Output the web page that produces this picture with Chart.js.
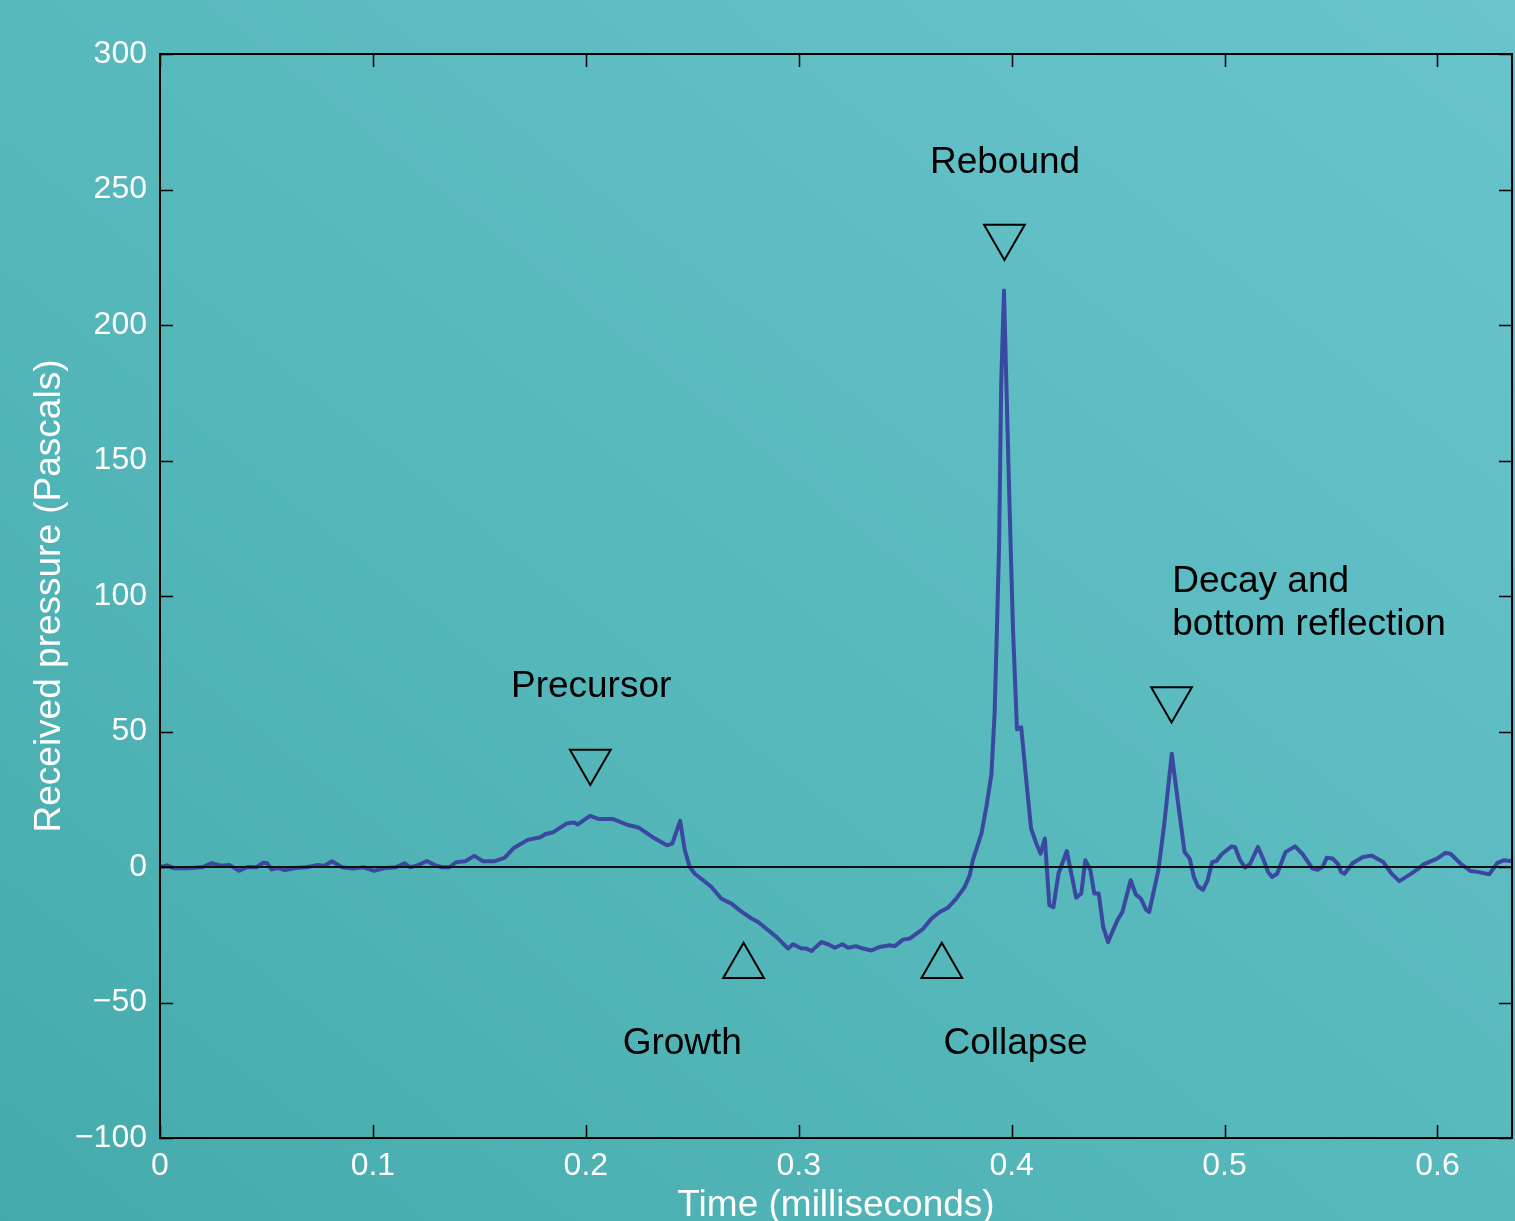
<!DOCTYPE html>
<html>
<head>
<meta charset="utf-8">
<script src="https://cdn.jsdelivr.net/npm/chart.js@4.4.1/dist/chart.umd.min.js"></script>
<style>
  html, body { margin: 0; padding: 0; }
  body {
    width: 1515px;
    height: 1221px;
    overflow: hidden;
    background: linear-gradient(to top right, #46aaab 0%, #56b8bb 45%, #69c4cd 100%);
  }
  canvas { display: block; }
</style>
</head>
<body>
<canvas id="chart" width="1515" height="1221"></canvas>
<script>
// received pressure trace
const timeMs = [
  0.0000, 0.0017, 0.0034, 0.0067, 0.0134, 0.0201, 0.0243, 0.0285, 0.0327, 0.0372,
  0.0411, 0.0453, 0.0486, 0.0503, 0.0523, 0.0553, 0.0587, 0.0637, 0.0687, 0.0738,
  0.0771, 0.0808, 0.0855, 0.0905, 0.0956, 0.1006, 0.1056, 0.1107, 0.1149, 0.1174,
  0.1207, 0.1254, 0.1291, 0.1325, 0.1358, 0.1392, 0.1434, 0.1476, 0.1517, 0.1568,
  0.1618, 0.1660, 0.1727, 0.1786, 0.1811, 0.1844, 0.1911, 0.1945, 0.1962, 0.2020,
  0.2062, 0.2129, 0.2197, 0.2247, 0.2314, 0.2381, 0.2406, 0.2443, 0.2465, 0.2488,
  0.2512, 0.2551, 0.2590, 0.2637, 0.2684, 0.2723, 0.2778, 0.2809, 0.2848, 0.2895,
  0.2950, 0.2973, 0.3013, 0.3036, 0.3060, 0.3083, 0.3107, 0.3138, 0.3169, 0.3205,
  0.3232, 0.3268, 0.3302, 0.3341, 0.3380, 0.3427, 0.3451, 0.3490, 0.3521, 0.3584,
  0.3623, 0.3662, 0.3701, 0.3740, 0.3779, 0.3803, 0.3818, 0.3858, 0.3881, 0.3905,
  0.3920, 0.3931, 0.3941, 0.3951, 0.3964, 0.3975, 0.3990, 0.4006, 0.4025, 0.4045,
  0.4066, 0.4091, 0.4116, 0.4136, 0.4156, 0.4177, 0.4196, 0.4220, 0.4259, 0.4303,
  0.4327, 0.4346, 0.4370, 0.4388, 0.4409, 0.4430, 0.4453, 0.4496, 0.4520, 0.4559,
  0.4583, 0.4607, 0.4631, 0.4646, 0.4689, 0.4717, 0.4752, 0.4780, 0.4812, 0.4836,
  0.4856, 0.4875, 0.4899, 0.4920, 0.4942, 0.4962, 0.4986, 0.5033, 0.5049, 0.5073,
  0.5097, 0.5120, 0.5157, 0.5184, 0.5204, 0.5223, 0.5247, 0.5286, 0.5331, 0.5365,
  0.5413, 0.5437, 0.5460, 0.5480, 0.5508, 0.5532, 0.5547, 0.5563, 0.5602, 0.5650,
  0.5690, 0.5745, 0.5785, 0.5821, 0.5871, 0.5911, 0.5934, 0.5998, 0.6037, 0.6061,
  0.6109, 0.6156, 0.6188, 0.6243, 0.6282, 0.6314, 0.6338, 0.6377
];
const pressurePa = [
  0.3, 0.2, 0.6, -0.5, -0.5, 0.0, 1.4, 0.5, 0.7, -1.4,
  0.0, -0.1, 1.6, 1.4, -0.9, -0.4, -1.1, -0.4, -0.1, 0.7,
  0.4, 2.1, -0.1, -0.6, -0.1, -1.4, -0.4, -0.1, 1.4, -0.1,
  0.5, 2.2, 0.7, -0.1, -0.1, 1.8, 2.1, 4.1, 2.1, 2.1,
  3.4, 6.9, 10.0, 11.0, 12.2, 12.7, 16.1, 16.4, 15.7, 18.9,
  17.7, 17.7, 15.5, 14.6, 11.0, 8.0, 8.6, 17.0, 6.2, 0.0,
  -2.5, -4.9, -7.4, -11.7, -13.5, -16.0, -19.0, -20.3, -22.8, -25.8,
  -30.1, -28.5, -30.1, -30.1, -31.0, -29.3, -27.7, -28.5, -29.8, -28.5,
  -29.8, -29.2, -30.1, -30.8, -29.5, -28.9, -29.2, -26.8, -26.4, -22.8,
  -19.1, -16.6, -15.0, -11.7, -7.4, -3.1, 2.6, 12.3, 22.1, 34.2,
  56.8, 88.4, 118.5, 178.8, 212.7, 178.8, 133.6, 88.4, 50.8, 51.5,
  34.2, 14.3, 8.6, 4.9, 10.5, -14.1, -14.8, -2.5, 5.9, -11.3,
  -9.8, 2.5, -1.2, -9.8, -9.8, -22.1, -27.7, -19.7, -16.6, -4.9,
  -10.1, -11.7, -15.7, -16.6, -1.2, 16.0, 41.8, 24.6, 5.5, 3.1,
  -3.7, -7.1, -8.4, -4.9, 1.8, 2.2, 4.7, 7.6, 7.4, 2.5,
  -0.2, 1.2, 7.4, 2.5, -1.8, -3.7, -2.5, 5.5, 7.6, 4.9,
  -0.6, -1.0, 0.0, 3.4, 3.1, 1.2, -1.8, -2.5, 1.5, 3.7,
  4.2, 1.8, -2.5, -5.2, -2.7, -0.6, 1.0, 3.1, 5.2, 4.9,
  1.2, -1.5, -1.8, -2.7, 1.5, 2.5, 2.2, 2.7
];

// zero reference line
const zeroTime = [0, 0.635];
const zeroValue = [0, 0];

// triangle markers
const markerTime = [0.2021, 0.3966, 0.4751, 0.2741, 0.3672];
const markerValue = [38.9, 232.7, 62.0, -36.6, -36.6];

// annotation text (baseline anchor)
const noteText = ['Precursor', 'Rebound', 'Decay and', 'bottom reflection', 'Growth', 'Collapse'];
const noteTime = [0.2025, 0.3969, 0.4754, 0.4754, 0.2453, 0.4018];
const noteValue = [62.6, 256.0, 101.6, 85.6, -69.0, -69.0];
const noteAlign = ['center', 'center', 'left', 'left', 'center', 'center'];

// axes
const xTicks = [0, 0.1, 0.2, 0.3, 0.4, 0.5, 0.6];
const yTicks = [-100, -50, 0, 50, 100, 150, 200, 250, 300];
const xMin = 0, xMax = 0.635;
const yMin = -100, yMax = 300;

const FONT = '"Liberation Sans", Arial, Helvetica, sans-serif';

const framePlugin = {
  id: 'frame',
  afterDatasetsDraw(chart) {
    const { ctx, chartArea: a, scales: { x, y } } = chart;
    ctx.save();
    ctx.strokeStyle = '#000';
    ctx.lineWidth = 2;
    ctx.strokeRect(a.left, a.top, a.right - a.left, a.bottom - a.top);

    ctx.lineWidth = 1.5;
    ctx.beginPath();
    for (const t of xTicks) {
      const px = Math.round(x.getPixelForValue(t)) + 0.5;
      ctx.moveTo(px, a.bottom);
      ctx.lineTo(px, a.bottom - 13);
      ctx.moveTo(px, a.top);
      ctx.lineTo(px, a.top + 13);
    }
    for (const v of yTicks) {
      const py = Math.round(y.getPixelForValue(v)) + 0.5;
      ctx.moveTo(a.left, py);
      ctx.lineTo(a.left + 13, py);
      ctx.moveTo(a.right, py);
      ctx.lineTo(a.right - 13, py);
    }
    ctx.stroke();

    ctx.fillStyle = '#000';
    ctx.font = '37px ' + FONT;
    ctx.textBaseline = 'alphabetic';
    noteText.forEach((txt, i) => {
      ctx.textAlign = noteAlign[i];
      ctx.fillText(txt, x.getPixelForValue(noteTime[i]), y.getPixelForValue(noteValue[i]));
    });
    ctx.restore();
  }
};

const minus = v => (v < 0 ? '\u2212' + Math.abs(v) : String(v));

new Chart(document.getElementById('chart'), {
  type: 'line',
  data: {
    datasets: [
      {
        data: zeroTime.map((t, i) => ({ x: t, y: zeroValue[i] })),
        borderColor: '#111',
        borderWidth: 2,
        pointRadius: 0
      },
      {
        data: timeMs.map((t, i) => ({ x: t, y: pressurePa[i] })),
        borderColor: '#3a48a0',
        borderWidth: 4,
        pointRadius: 0,
        tension: 0,
        borderJoinStyle: 'round'
      },
      {
        data: markerTime.map((t, i) => ({ x: t, y: markerValue[i] })),
        showLine: false,
        pointStyle: 'triangle',
        pointRadius: 23.5,
        pointHoverRadius: 23.5,
        pointBorderWidth: 2,
        pointBorderColor: '#000',
        pointBackgroundColor: 'rgba(0,0,0,0)',
        pointRotation: ctx => (markerValue[ctx.dataIndex] > 0 ? 180 : 0)
      }
    ]
  },
  options: {
    responsive: false,
    animation: false,
    devicePixelRatio: 1,
    layout: { autoPadding: false, padding: { top: 54, right: 3, left: 0, bottom: 0 } },
    plugins: {
      legend: { display: false },
      tooltip: { enabled: false }
    },
    scales: {
      x: {
        type: 'linear',
        min: xMin,
        max: xMax,
        grid: { display: false, drawTicks: false },
        border: { display: false },
        afterBuildTicks: s => { s.ticks = xTicks.map(v => ({ value: v })); },
        afterFit: s => {
          s.height = 83;
          s.paddingLeft = 0;
          s.paddingRight = 0;
        },
        ticks: {
          color: '#fff',
          font: { family: FONT, size: 32 },
          padding: 9,
          maxRotation: 0,
          autoSkip: false,
          callback: v => String(v)
        },
        title: {
          display: true,
          text: 'Time (milliseconds)',
          color: '#fff',
          font: { family: FONT, size: 37, lineHeight: 0.8 },
          padding: { top: 0, bottom: 0 }
        }
      },
      y: {
        type: 'linear',
        min: yMin,
        max: yMax,
        grid: { display: false, drawTicks: false },
        border: { display: false },
        afterBuildTicks: s => { s.ticks = yTicks.map(v => ({ value: v })); },
        afterFit: s => {
          s.width = 160;
          s.paddingTop = 0;
          s.paddingBottom = 0;
        },
        ticks: {
          color: '#fff',
          font: { family: FONT, size: 32 },
          padding: 13,
          autoSkip: false,
          callback: v => minus(v)
        },
        title: {
          display: true,
          text: 'Received pressure (Pascals)',
          color: '#fff',
          font: { family: FONT, size: 37, lineHeight: 0.8 },
          padding: { top: 35, bottom: 0 }
        }
      }
    }
  },
  plugins: [framePlugin]
});
</script>
</body>
</html>
